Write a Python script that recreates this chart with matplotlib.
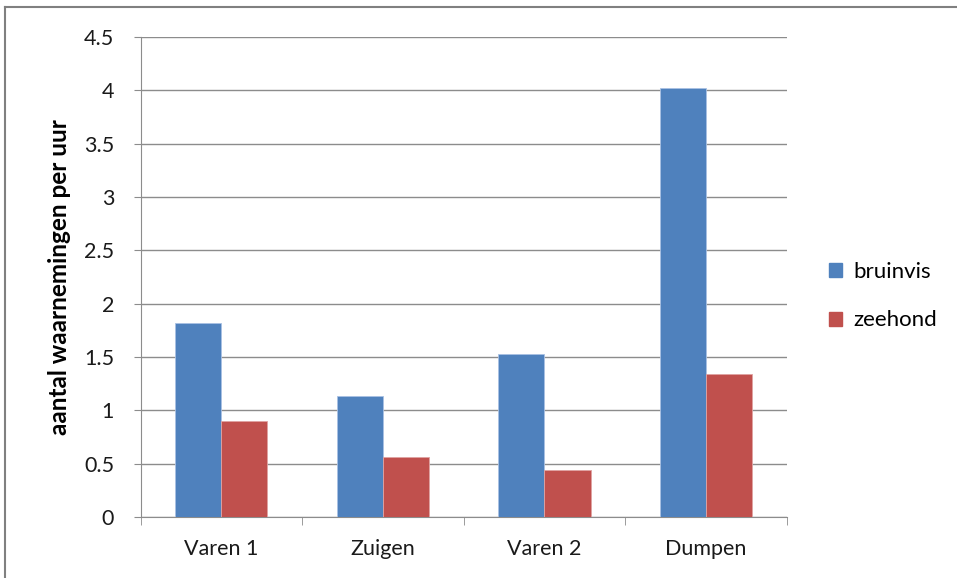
import matplotlib
matplotlib.use("Agg")
import matplotlib.pyplot as plt
import numpy as np
from matplotlib.lines import Line2D
from matplotlib.patches import Patch

categories = ["Varen 1", "Zuigen", "Varen 2", "Dumpen"]
bruinvis = [1.82, 1.13, 1.53, 4.02]
zeehond = [0.90, 0.56, 0.44, 1.34]
yticks = [0, 0.5, 1, 1.5, 2, 2.5, 3, 3.5, 4, 4.5]
ytick_labels = ["0", "0.5", "1", "1.5", "2", "2.5", "3", "3.5", "4", "4.5"]

plt.rcParams['font.family'] = ['Lato', 'DejaVu Sans']

fig = plt.figure(figsize=(9.57, 5.78), dpi=100)
ax = fig.add_axes([140.5/957, 61/578, (786.7-140.5)/957, 480/578])

x = np.arange(len(categories))
w = 1/3.5
blue = "#4F81BD"
red = "#C0504D"
ax.bar(x - w/2, bruinvis, width=w, color=blue, edgecolor="#a9c1e3", linewidth=0.6, zorder=3)
ax.bar(x + w/2, zeehond, width=w, color=red, edgecolor="#e0a3a2", linewidth=0.6, zorder=3)

ax.set_xlim(-0.5, len(categories) - 0.5)
ax.set_ylim(0, 4.5)
ax.set_yticks(yticks)
ax.set_yticklabels(ytick_labels, fontsize=15.5, color="#1a1a1a")
ax.yaxis.grid(True, color="#8c8c8c", linewidth=1.0, zorder=0)
ax.set_axisbelow(True)

ax.set_xticks(x)
ax.set_xticklabels(categories, fontsize=15.5, color="#1a1a1a")
ax.set_xticks(np.arange(-0.5, len(categories)), minor=True)
ax.tick_params(axis='x', which='major', length=0, pad=16)
ax.tick_params(axis='x', which='minor', length=6, color="#8c8c8c", direction='out')
ax.tick_params(axis='y', length=5, color="#8c8c8c", direction='out', pad=14)

for s in ["top", "right"]:
    ax.spines[s].set_visible(False)
ax.spines["left"].set_color("#8c8c8c")
ax.spines["bottom"].set_color("#8c8c8c")

ax.set_ylabel("aantal waarnemingen per uur", fontsize=17.5, fontweight="bold", labelpad=9)

handles = [Patch(facecolor=blue, edgecolor=blue), Patch(facecolor=red, edgecolor=red)]
fig.legend(handles, ["bruinvis", "zeehond"], loc="center left",
           bbox_to_anchor=(809/957, 1 - 296/578), frameon=False, fontsize=16,
           handlelength=0.6, handleheight=0.6, handletextpad=0.5, labelspacing=1.3)

fig.add_artist(Line2D([5/957, 5/957], [0, 1 - 7/578], transform=fig.transFigure, color="#808080", linewidth=1.5))
fig.add_artist(Line2D([5/957, 1], [1 - 7/578, 1 - 7/578], transform=fig.transFigure, color="#808080", linewidth=1.5))

fig.savefig("out.png", dpi=100)
